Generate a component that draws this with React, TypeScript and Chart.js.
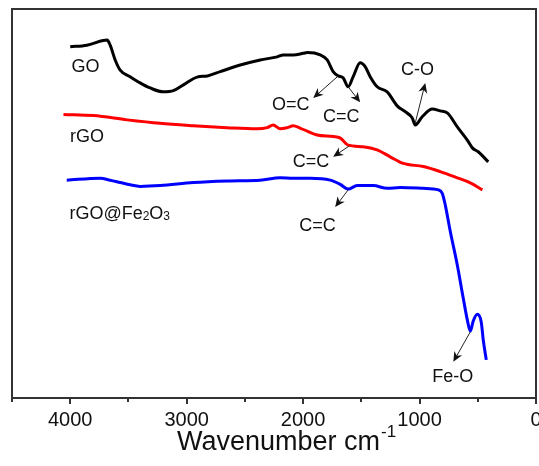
import React, { useEffect, useRef } from 'react';
import { Chart, registerables } from 'chart.js';

Chart.register(...registerables);

// ---- data (wavenumber in cm^-1, transmittance in arbitrary units) ----
const goWavenumber = [4000, 3857, 3717, 3683, 3657, 3614, 3571, 3486, 3400, 3314, 3200, 3114, 3028, 2910, 2822, 2712, 2540, 2368, 2222, 2171, 2085, 1999, 1963, 1853, 1793, 1742, 1698, 1656, 1613, 1570, 1510, 1467, 1424, 1364, 1278, 1192, 1123, 1063, 1037, 977, 891, 822, 762, 676, 590, 547, 496, 410];
const goValues = [90.3, 90.7, 91.9, 92.0, 90.7, 86.9, 84.3, 82.6, 81.0, 79.7, 78.7, 79.0, 80.5, 82.5, 82.8, 83.9, 85.6, 86.9, 87.7, 88.2, 88.2, 88.6, 88.8, 88.2, 86.9, 83.9, 82.8, 82.3, 80.0, 82.6, 86.2, 85.2, 82.6, 80.0, 78.7, 75.1, 73.6, 72.0, 70.2, 72.3, 74.3, 73.8, 73.3, 69.7, 66.3, 64.3, 63.3, 60.7];

const rgoWavenumber = [4058, 3800, 3511, 3228, 2945, 2653, 2395, 2309, 2257, 2197, 2137, 2085, 2027, 1965, 1879, 1740, 1680, 1613, 1485, 1364, 1252, 1140, 968, 822, 676, 564, 460];
const rgoValues = [72.9, 72.6, 71.5, 70.6, 70.0, 69.5, 69.2, 69.5, 70.2, 69.2, 69.5, 70.0, 69.4, 68.6, 67.6, 67.2, 66.8, 65.0, 64.6, 63.8, 62.0, 60.3, 59.5, 58.2, 56.6, 55.3, 53.5];

const feWavenumber = [4030, 3743, 3657, 3571, 3485, 3400, 3228, 2943, 2650, 2368, 2197, 2085, 1939, 1767, 1681, 1613, 1536, 1398, 1278, 1166, 968, 838, 805, 779, 736, 676, 625, 590, 564, 539, 504, 470, 453, 427];
const feValues = [56.0, 56.5, 56.0, 55.4, 54.8, 54.4, 54.6, 55.4, 55.8, 56.0, 56.6, 56.5, 56.5, 56.0, 54.9, 53.7, 54.6, 54.6, 53.9, 54.1, 53.9, 53.5, 52.6, 49.6, 42.8, 34.2, 25.7, 20.1, 17.2, 19.8, 21.5, 19.5, 14.9, 9.8];

const seriesNames = ['GO', 'rGO', 'rGO@Fe2O3'];
const seriesColors = ['#000000', '#ff0000', '#0000ff'];
const seriesLabelX = [3988, 4001, 4007];
const seriesLabelY = [83.9, 65.7, 46.0];

const majorTicks = [4000, 3000, 2000, 1000, 0];
const minorTicks = [4500, 3500, 2500, 1500, 500];
const xTitle = 'Wavenumber cm';
const xTitleSup = '-1';

const annotationTexts = ['O=C', 'C=C', 'C-O', 'C=C', 'C=C', 'Fe-O'];
const annotationTextX = [2268, 1830, 1160, 2088, 2033, 891];
const annotationTextY = [74.0, 71.0, 83.0, 59.4, 43.0, 4.1];
const arrowFromX = [1698, 1613, 1037, 1604, 1613, 564];
const arrowFromY = [82.8, 80.0, 70.7, 64.8, 53.5, 17.0];
const arrowToX = [1913, 1510, 951, 1742, 1725, 710];
const arrowToY = [77.1, 76.0, 81.0, 62.0, 49.1, 9.3];

const FONT = '"Liberation Sans", Arial, Helvetica, sans-serif';

function toPoints(xs: number[], ys: number[]) {
  return xs.map((x, i) => ({ x, y: ys[i] }));
}

function drawRichLabel(ctx: CanvasRenderingContext2D, text: string, x: number, y: number) {
  const parts = text.split(/(\d)/).filter((p) => p.length > 0);
  let cx = x;
  for (const p of parts) {
    const sub = /^\d$/.test(p);
    ctx.font = sub ? `12px ${FONT}` : `18px ${FONT}`;
    ctx.fillText(p, cx, sub ? y + 1 : y);
    cx += ctx.measureText(p).width;
  }
}

function drawArrow(ctx: CanvasRenderingContext2D, x1: number, y1: number, x2: number, y2: number) {
  const ang = Math.atan2(y2 - y1, x2 - x1);
  const len = 10;
  const half = 4.5;
  const notch = 3;
  const bx = x2 - len * Math.cos(ang);
  const by = y2 - len * Math.sin(ang);
  ctx.beginPath();
  ctx.moveTo(x1, y1);
  ctx.lineTo(x2 - notch * Math.cos(ang), y2 - notch * Math.sin(ang));
  ctx.lineWidth = 1;
  ctx.strokeStyle = '#222';
  ctx.stroke();
  ctx.beginPath();
  ctx.moveTo(x2, y2);
  ctx.lineTo(bx + half * Math.sin(ang), by - half * Math.cos(ang));
  ctx.lineTo(x2 - (len - notch) * Math.cos(ang), y2 - (len - notch) * Math.sin(ang));
  ctx.lineTo(bx - half * Math.sin(ang), by + half * Math.cos(ang));
  ctx.closePath();
  ctx.fillStyle = '#111';
  ctx.fill();
}

const overlayPlugin = {
  id: 'overlay',
  afterDraw(chart: any) {
    const { ctx, chartArea: a, scales } = chart;
    const xs = scales.x;
    const ys = scales.y;
    ctx.save();
    // frame
    ctx.strokeStyle = '#333';
    ctx.lineWidth = 2;
    ctx.strokeRect(a.left, a.top, a.right - a.left, a.bottom - a.top);
    // tick marks (outward)
    ctx.lineWidth = 2;
    for (const v of majorTicks) {
      const px = Math.round(xs.getPixelForValue(v));
      ctx.beginPath();
      ctx.moveTo(px, a.bottom);
      ctx.lineTo(px, a.bottom + 6);
      ctx.stroke();
    }
    for (const v of minorTicks) {
      const px = Math.round(xs.getPixelForValue(v));
      ctx.beginPath();
      ctx.moveTo(px, a.bottom);
      ctx.lineTo(px, a.bottom + 4);
      ctx.stroke();
    }
    // x-axis title with superscript
    ctx.fillStyle = '#111';
    ctx.textBaseline = 'alphabetic';
    ctx.textAlign = 'left';
    ctx.font = `27px ${FONT}`;
    const wMain = ctx.measureText(xTitle).width;
    ctx.font = `17px ${FONT}`;
    const wSup = ctx.measureText(xTitleSup).width;
    const center = (a.left + a.right) / 2 + 12;
    const tx = center - (wMain + wSup) / 2;
    ctx.font = `27px ${FONT}`;
    ctx.fillText(xTitle, tx, 450);
    ctx.font = `17px ${FONT}`;
    ctx.fillText(xTitleSup, tx + wMain + 1, 437);
    // series labels
    ctx.fillStyle = '#111';
    for (let i = 0; i < seriesNames.length; i++) {
      drawRichLabel(ctx, seriesNames[i], xs.getPixelForValue(seriesLabelX[i]), ys.getPixelForValue(seriesLabelY[i]));
    }
    // annotations
    for (let i = 0; i < annotationTexts.length; i++) {
      ctx.font = `18px ${FONT}`;
      ctx.fillStyle = '#111';
      ctx.fillText(annotationTexts[i], xs.getPixelForValue(annotationTextX[i]), ys.getPixelForValue(annotationTextY[i]));
      drawArrow(
        ctx,
        xs.getPixelForValue(arrowFromX[i]),
        ys.getPixelForValue(arrowFromY[i]),
        xs.getPixelForValue(arrowToX[i]),
        ys.getPixelForValue(arrowToY[i])
      );
    }
    ctx.restore();
  },
};

export default function App() {
  const ref = useRef<HTMLCanvasElement>(null);
  useEffect(() => {
    const canvas = ref.current;
    if (!canvas) return;
    const seriesX = [goWavenumber, rgoWavenumber, feWavenumber];
    const seriesY = [goValues, rgoValues, feValues];
    const chart = new Chart(canvas, {
      type: 'line',
      data: {
        datasets: seriesNames.map((name, i) => ({
          label: name,
          data: toPoints(seriesX[i], seriesY[i]),
          borderColor: seriesColors[i],
          backgroundColor: seriesColors[i],
          borderWidth: 3,
          pointRadius: 0,
          tension: 0.4,
          cubicInterpolationMode: 'monotone' as const,
          fill: false,
        })),
      },
      options: {
        responsive: false,
        animation: false,
        devicePixelRatio: 1,
        layout: { padding: { left: 12, right: 24, top: 9, bottom: 24 } },
        plugins: {
          legend: { display: false },
          tooltip: { enabled: false },
          title: { display: false },
        },
        scales: {
          x: {
            type: 'linear',
            min: 0,
            max: 4500,
            reverse: true,
            grid: { display: false, drawTicks: false, tickLength: 0 },
            border: { display: false },
            ticks: {
              stepSize: 500,
              autoSkip: false,
              maxRotation: 0,
              padding: 10,
              color: '#111',
              font: { family: FONT, size: 20 },
              callback: (v: any) => (majorTicks.includes(Number(v)) ? String(v) : ''),
            },
          },
          y: {
            type: 'linear',
            display: false,
            min: 0,
            max: 100,
          },
        },
      },
      plugins: [overlayPlugin],
    });
    return () => chart.destroy();
  }, []);
  return (
    <div style={{ position: 'fixed', left: 0, top: 0, width: 539, height: 466, overflow: 'hidden', background: '#fff' }}>
      <canvas ref={ref} width={560} height={466} style={{ display: 'block' }} />
    </div>
  );
}
